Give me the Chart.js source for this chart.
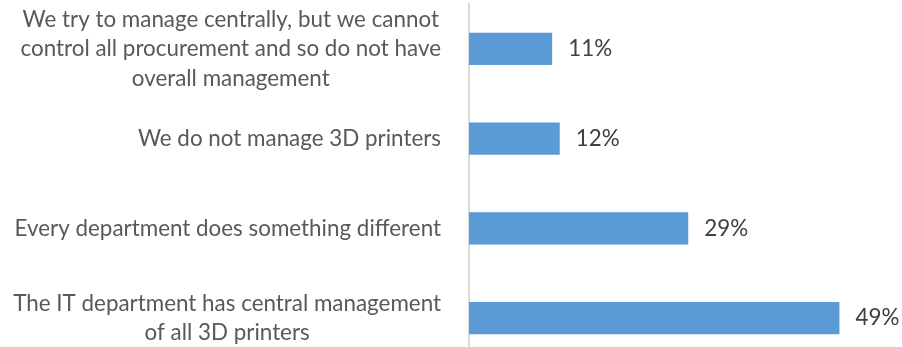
<!DOCTYPE html>
<html>
<head>
<meta charset="utf-8">
<script src="https://cdn.jsdelivr.net/npm/chart.js@4/dist/chart.umd.min.js"></script>
<style>
  html, body { margin: 0; padding: 0; background: #fff; overflow: hidden; }
  #wrap { width: 902px; height: 347px; overflow: hidden; }
  #box { width: 902px; height: 366px; }
</style>
</head>
<body>
<div id="wrap"><div id="box"><canvas id="chart"></canvas></div></div>
<script>
// Survey answers, top to bottom
const categories = [
  ["We try to manage centrally, but we cannot", "control all procurement and so do not have", "overall management"],
  ["We do not manage 3D printers"],
  ["Every department does something different"],
  ["The IT department has central management", "of all 3D printers"],
];
const shares = [11, 12, 29, 49];

const FONT = "22.4px Lato, 'Open Sans', sans-serif";

// Category text: each block right-aligned against the axis, lines centred within the block
const categoryLabels = {
  id: "categoryLabels",
  afterDraw(chart) {
    const ctx = chart.ctx;
    const yScale = chart.scales.y;
    const right = chart.chartArea.left - 28;
    const lineH = 29.5;
    ctx.save();
    ctx.font = FONT;
    ctx.fillStyle = "#595959";
    ctx.textAlign = "center";
    ctx.textBaseline = "middle";
    categories.forEach((lines, i) => {
      const cy = yScale.getPixelForTick(i);
      const w = Math.max(...lines.map((l) => ctx.measureText(l).width));
      const cx = right - w / 2;
      const y0 = cy - ((lines.length - 1) * lineH) / 2;
      lines.forEach((l, j) => ctx.fillText(l, cx, y0 + j * lineH));
    });
    ctx.restore();
  },
};

// Percent labels just past the end of each bar
const valueLabels = {
  id: "valueLabels",
  afterDatasetsDraw(chart) {
    const ctx = chart.ctx;
    const meta = chart.getDatasetMeta(0);
    ctx.save();
    ctx.font = FONT;
    ctx.fillStyle = "#404040";
    ctx.textAlign = "left";
    ctx.textBaseline = "middle";
    meta.data.forEach((bar, i) => {
      ctx.fillText(shares[i] + "%", bar.x + 16, bar.y);
    });
    ctx.restore();
  },
};

new Chart(document.getElementById("chart"), {
  type: "bar",
  data: {
    labels: categories.map((c) => c.join(" ")),
    datasets: [
      {
        data: shares,
        backgroundColor: "#5B9BD5",
        borderWidth: 0,
        barPercentage: 1,
        categoryPercentage: 0.357,
      },
    ],
  },
  options: {
    indexAxis: "y",
    responsive: true,
    maintainAspectRatio: false,
    animation: false,
    layout: { padding: { left: 0, right: 55, top: 4, bottom: 3 } },
    plugins: {
      legend: { display: false },
      tooltip: { enabled: false },
    },
    scales: {
      x: { display: false, min: 0, max: 50 },
      y: {
        grid: { display: false },
        border: { display: true, color: "#D9D9D9", width: 2 },
        ticks: { display: false },
        afterFit: (scale) => {
          scale.width = 469;
        },
      },
    },
  },
  plugins: [categoryLabels, valueLabels],
});
</script>
</body>
</html>
